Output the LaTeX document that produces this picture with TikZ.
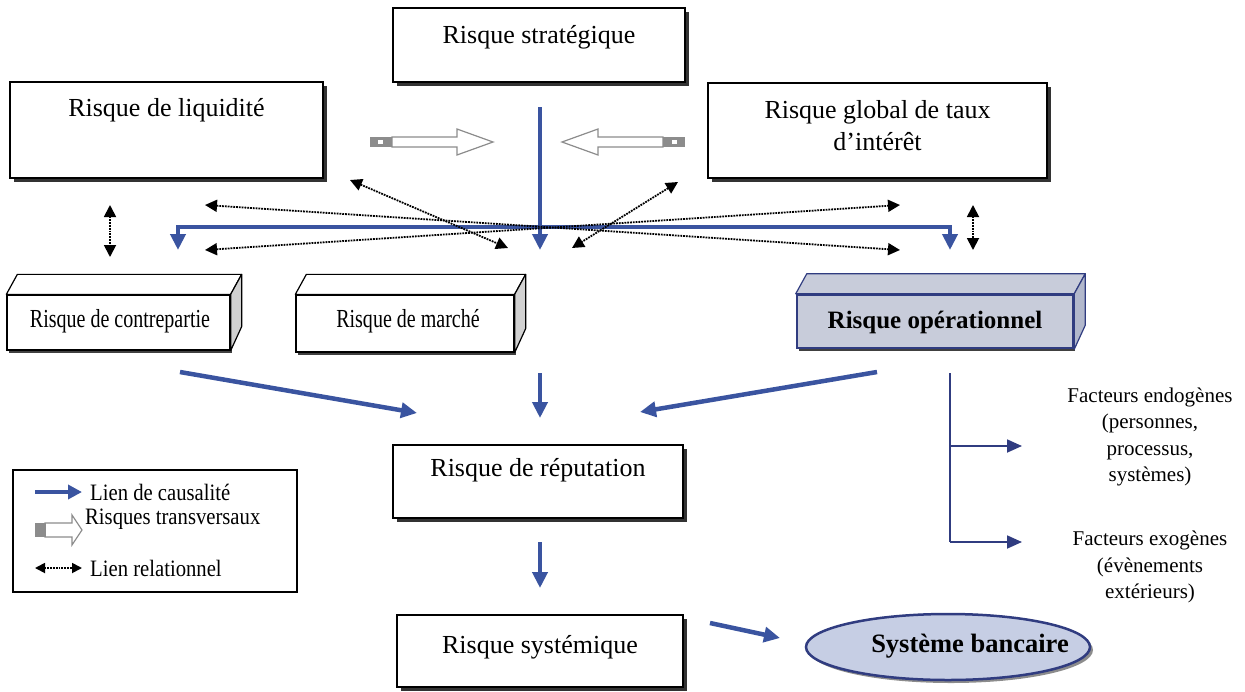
\documentclass[tikz,border=0pt]{standalone}
\usepackage{fontspec}
\setmainfont{Liberation Serif}
\usetikzlibrary{arrows.meta,shadows,shapes.geometric,calc}

\definecolor{causalblue}{RGB}{58,84,160}
\definecolor{opfill}{RGB}{200,204,218}
\definecolor{opside}{RGB}{178,184,204}
\definecolor{opline}{RGB}{48,60,128}
\definecolor{ellfill}{RGB}{198,206,228}
\definecolor{transgray}{RGB}{140,140,140}

% top and side faces of a slab whose front face is node #1
\newcommand\slabfaces[4]{%
  \draw[line width=1.2pt, draw=#4, fill=#2, line join=round]
    (#1.north west) -- ++(11,-20) -- ($(#1.north east)+(11,-20)$) -- (#1.north east) -- cycle;
  \draw[line width=1.2pt, draw=#4, fill=#3, line join=round]
    (#1.north east) -- ++(11,-20) -- ($(#1.south east)+(11,-24)$) -- (#1.south east) -- cycle;
}

\begin{document}
\begin{tikzpicture}[x=1pt,y=-1pt,
  plainbox/.style={draw=black, line width=1.3pt, fill=white,
    drop shadow={shadow xshift=3.5pt,shadow yshift=-3.5pt,fill=black!80,opacity=1}},
  frontface/.style={draw=black, line width=1.3pt, fill=white,
    drop shadow={shadow xshift=2pt,shadow yshift=-3pt,fill=black!75,opacity=1}},
  boxtext/.style={font=\fontsize{26}{32}\selectfont, align=center, inner sep=0pt},
  slabtext/.style={font=\fontsize{26}{32}\selectfont\addfontfeature{FakeStretch=0.77}, align=center, inner sep=0pt},
  boldtext/.style={font=\fontsize{25}{30}\selectfont\bfseries, align=center, inner sep=0pt},
  factor/.style={font=\fontsize{21}{26.5}\selectfont, align=center, inner sep=0pt},
  legtext/.style={font=\fontsize{23.5}{26}\selectfont\addfontfeature{FakeStretch=0.88}, anchor=west, inner sep=0pt},
  causal/.style={draw=causalblue, line width=4.5pt, -{Triangle[length=16pt,width=15pt]}},
  branch/.style={draw=opline, line width=1.8pt, -{Triangle[length=15pt,width=13pt]}},
  relation/.style={draw=black, line width=1.8pt, densely dotted,
    {Triangle[length=12pt,width=12pt]}-{Triangle[length=12pt,width=12pt]}},
  pics/transarrow/.style={code={
    \draw[transgray, line width=1.2pt, fill=white, line join=miter]
      (22,-5) -- (87,-5) -- (87,-13) -- (123,0) -- (87,13) -- (87,5) -- (22,5) -- cycle;
    \fill[transgray] (0,-5) rectangle (22,5);
    \fill[white] (8,-2) rectangle (13,2);
  }}
]
\useasboundingbox (0,0) rectangle (1245,691);

% ---- upper row of risks
\node[plainbox, minimum width=292pt, minimum height=74pt] (strat) at (539,45) {};
\node[boxtext] (strattxt) at (539,37) {Risque stratégique};

\node[plainbox, minimum width=313pt, minimum height=96pt] (liq) at (166.5,130) {};
\node[boxtext] (liqtxt) at (166.5,110) {Risque de liquidité};

\node[plainbox, minimum width=339pt, minimum height=95pt] (taux) at (877.5,130.5) {};
\node[boxtext] (tauxtxt) at (877.5,126) {Risque global de taux\\d’intérêt};

% ---- transversal risks
\pic at (370,142) {transarrow};
\pic[xscale=-1] at (685,142) {transarrow};

% ---- slabs
\node[frontface, minimum width=223pt, minimum height=55pt] (cpt) at (118.5,322.5) {};
\slabfaces{cpt}{white}{black!18}{black}
\node[slabtext] (cpttxt) at (120,321) {Risque de contrepartie};

\node[frontface, minimum width=218pt, minimum height=57pt] (mkt) at (405,323.5) {};
\slabfaces{mkt}{white}{black!18}{black}
\node[slabtext] (mkttxt) at (408,321) {Risque de marché};

\node[frontface, draw=opline, line width=2.5pt, fill=opfill, minimum width=276pt, minimum height=53pt] (op) at (935,321.5) {};
\slabfaces{op}{opfill}{opside}{opline}
\node[boldtext] (optxt) at (935,322) {Risque opérationnel};

% ---- lower chain
\node[plainbox, minimum width=290pt, minimum height=73pt] (rep) at (538,481.5) {};
\node[boxtext] (reptxt) at (538,470) {Risque de réputation};

\node[plainbox, minimum width=286pt, minimum height=72pt] (sys) at (540,651) {};
\node[boxtext] (systxt) at (540,647) {Risque systémique};

\node[ellipse, draw=opline, line width=2.5pt, fill=ellfill, minimum width=284pt, minimum height=66pt,
  drop shadow={shadow xshift=3pt,shadow yshift=-3pt,fill=black!45,opacity=1}] (bank) at (948,647) {};
\node[boldtext, font=\fontsize{26.5}{30}\selectfont\bfseries] (banktxt) at (970,646) {Système bancaire};

% ---- factors of operational risk
\node[factor] (endo) at (1150,437) {Facteurs endogènes\\(personnes,\\processus,\\systèmes)};
\node[factor] (exo) at (1150,567) {Facteurs exogènes\\(évènements\\extérieurs)};

% ---- connection points
\coordinate (hub) at (540,250);
\coordinate (stratout) at (540,107);
\coordinate (lefttip) at (178,250);
\coordinate (righttip) at (950,250);
\coordinate (cptout) at (180,372);
\coordinate (mktout) at (540,373);
\coordinate (opout) at (877,372);
\coordinate (repinl) at (417,413);
\coordinate (repinm) at (540,418);
\coordinate (repinr) at (640,412);
\coordinate (repout) at (540,542);
\coordinate (sysin) at (540,588);
\coordinate (sysout) at (710,623);
\coordinate (bankin) at (780,638);
\coordinate (optop) at (950,373);
\coordinate (endoin) at (1022,446);
\coordinate (exoin) at (1022,542);

% ---- causal links
\draw[causal] (stratout) -- (hub);
\draw[causal, {Triangle[length=16pt,width=15pt]}-{Triangle[length=16pt,width=15pt]}]
  (lefttip) -- (178,227) -- (950,227) -- (righttip);
\draw[causal] (cptout) -- (repinl);
\draw[causal] (mktout) -- (repinm);
\draw[causal] (opout) -- (repinr);
\draw[causal] (repout) -- (sysin);
\draw[causal] (sysout) -- (bankin);

% ---- operational factors
\draw[opline, line width=1.8pt] (optop) -- (950,542);
\draw[branch] (950,446) -- (endoin);
\draw[branch] (950,542) -- (exoin);

% ---- relational links
\coordinate (liqcorner) at (350,180);
\coordinate (tauxcorner) at (678,182);
\coordinate (mktl) at (508,248);
\coordinate (mktr) at (572,248);
\coordinate (xl1) at (205,205);
\coordinate (xl2) at (205,250);
\coordinate (xr1) at (900,205);
\coordinate (xr2) at (900,250);
\draw[relation] (liqcorner) -- (mktl);
\draw[relation] (tauxcorner) -- (mktr);
\draw[relation] (xl1) -- (xr2);
\draw[relation] (xl2) -- (xr1);
\coordinate (vl1) at (110,205);
\coordinate (vl2) at (110,257);
\coordinate (vr1) at (973,205);
\coordinate (vr2) at (973,250);
\draw[relation] (vl1) -- (vl2);
\draw[relation] (vr1) -- (vr2);

% ---- legend
\node[draw=black, line width=1.3pt, minimum width=284pt, minimum height=122pt] (legend) at (155,531) {};
\coordinate (lg1a) at (35,492);
\coordinate (lg1b) at (82,492);
\draw[causal, -{Triangle[length=14pt,width=14pt]}] (lg1a) -- (lg1b);
\node[legtext] (lgt1) at (90,492) {Lien de causalité};
\draw[transgray, line width=1.2pt, fill=white]
  (45,523) -- (72,523) -- (72,515) -- (82,530) -- (72,545) -- (72,537) -- (45,537) -- cycle;
\fill[transgray] (35,523) rectangle (46,537);
\node[legtext] (lgt2) at (85,519) {Risques transversaux};
\coordinate (lg3a) at (35,568);
\coordinate (lg3b) at (82,568);
\draw[relation, {Triangle[length=10pt,width=10pt]}-{Triangle[length=10pt,width=10pt]}] (lg3a) -- (lg3b);
\node[legtext] (lgt3) at (90,568) {Lien relationnel};
\end{tikzpicture}
\end{document}
